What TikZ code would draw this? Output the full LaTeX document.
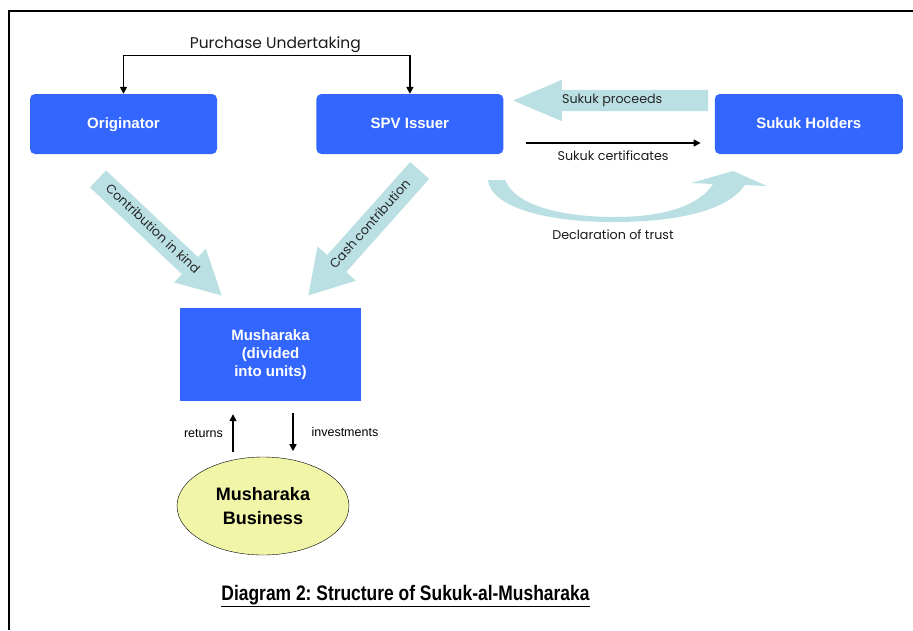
\documentclass[tikz,border=0pt]{standalone}
\usepackage{fontspec}
\setmainfont{Liberation Sans}
\newfontfamily\gothic{Poppins}
\usetikzlibrary{arrows.meta,positioning,shapes.arrows,shapes.geometric}
\definecolor{BoxBlue}{RGB}{51,102,255}
\definecolor{FatTeal}{RGB}{186,224,227}
\definecolor{BizYellow}{RGB}{240,245,168}
\frenchspacing

\begin{document}
\begin{tikzpicture}[x=1pt, y=-1pt, >={Triangle[length=7pt,width=7pt]}]
    \tikzstyle{party}=[fill=BoxBlue, text=white, font=\bfseries\fontsize{15}{18}\selectfont, rounded corners=5pt, minimum width=187pt, minimum height=60pt, inner sep=0pt, align=center]
    \tikzstyle{partyline}=[party, text height=11pt, text depth=3pt]
    \tikzstyle{fatarrow}=[single arrow, fill=FatTeal, text=black!85, font=\gothic\fontsize{12.7}{15}\selectfont, text height=8pt, text depth=2pt, inner xsep=0pt, anchor=tip]
    \tikzstyle{gothlabel}=[text=black!90, font=\gothic\fontsize{12.7}{15}\selectfont]
    \useasboundingbox (0,0) rectangle (913,630);
    \draw[line width=2pt] (9,630) -- (9,11) -- (913,11);

    \node[partyline] (orig) at (123.5,124) {Originator};
    \node[partyline, right=99pt of orig] (spv) {SPV Issuer};
    \node[partyline, right=211pt of spv, minimum width=188pt] (holders) {Sukuk Holders};
    \node[party, rounded corners=0pt, minimum width=181pt, minimum height=93pt] (mush) at (270.5,354.5) {Musharaka\\(divided\\into units)};
    \node[draw=black, fill=BizYellow, ellipse, minimum width=172pt, minimum height=98pt, inner sep=0pt, align=center, font=\bfseries\fontsize{18}{24}\selectfont] (biz) at (263,506) {Musharaka\\Business};

    \draw[<->, line width=1.5pt] (orig.north) -- ++(0,-38.5) -| (spv.north) node[pos=0.265, above=-1pt, gothlabel, font=\gothic\fontsize{15.5}{18}\selectfont] {Purchase Undertaking};

    \node[fatarrow, rotate=-43.3, minimum height=170pt, inner ysep=6.5pt, single arrow head extend=11.5pt, single arrow tip angle=56] (kind) at ([shift={(-48.5,-12)}]mush.north) {Contribution in kind};
    \node[fatarrow, rotate=48.3, shape border rotate=180, minimum height=167.5pt, inner ysep=7.5pt, single arrow head extend=13pt, single arrow tip angle=62] (cash) at ([shift={(37.5,-12)}]mush.north) {Cash contribution};
    \node[fatarrow, shape border rotate=180, minimum height=195pt, inner ysep=5.5pt, single arrow head extend=10pt, single arrow tip angle=46] (proceeds) at ([shift={(9,-23.5)}]spv.east) {Sukuk proceeds\hspace*{22pt}};

    \draw[->, line width=1.5pt] ([shift={(22,19)}]spv.east) -- ([shift={(-14,19)}]holders.west) node[midway, below=4pt, gothlabel] {Sukuk certificates};

    % declaration of trust
    \fill[FatTeal] (488,180) -- (505,180) .. controls (515,205) and (560,217) .. (615,217) .. controls (665,217) and (700,205) .. (713,184) -- (691,183) -- (733,171) -- (767,186) -- (745,185) .. controls (728,210) and (680,222) .. (613,222) .. controls (540,222) and (490,205) .. (488,180) -- cycle;
    \node[gothlabel] (trust) at (613,235) {Declaration of trust};

    \draw[->, line width=1.5pt] ([shift={(-37.5,51)}]mush.south) -- ([shift={(-37.5,13)}]mush.south) node[midway, left=6pt, font=\fontsize{12.5}{14}\selectfont] {returns};
    \draw[->, line width=1.5pt] ([shift={(22.5,12)}]mush.south) -- ([shift={(22.5,50)}]mush.south) node[midway, right=14.5pt, font=\fontsize{12.5}{14}\selectfont] {investments};

    \node[anchor=base, font=\bfseries\fontsize{21}{25}\selectfont] (title) at (405.5,600) {\scalebox{0.83}[1]{\underline{Diagram 2: Structure of Sukuk-al-Musharaka}}};
\end{tikzpicture}
\end{document}
